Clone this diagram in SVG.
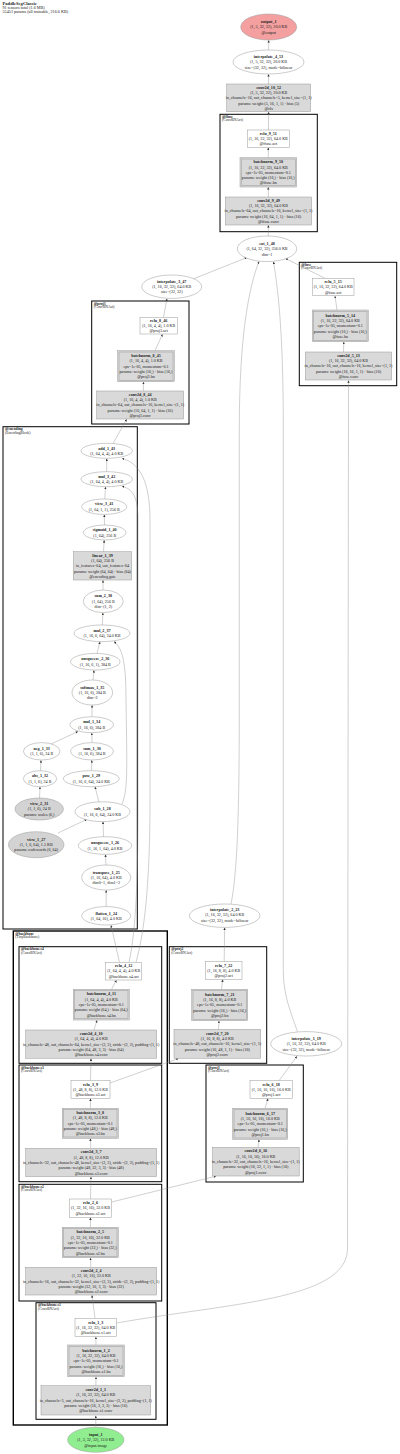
<svg xmlns="http://www.w3.org/2000/svg" width="400" height="1454" viewBox="0 0 400 1454">
<style>
text{font-family:"Liberation Serif","Times New Roman",serif;font-size:4.1px;fill:#222;text-anchor:middle}
.n{font-weight:bold}
.hd{text-anchor:start;font-size:4.2px}
.ht{text-anchor:start;font-size:4.6px;font-weight:bold}
.cl{text-anchor:start;font-size:3.7px}
.clb{text-anchor:start;font-size:3.7px;font-weight:bold}
.box{fill:#d9d9d9;stroke:#999;stroke-width:0.5}
.in{fill:none;stroke:#999;stroke-width:0.5}
.wbox{fill:#fff;stroke:#999;stroke-width:0.5}
.ell{fill:#fff;stroke:#999;stroke-width:0.5}
.pell{fill:#d3d3d3;stroke:#999;stroke-width:0.5}
.clu{fill:none;stroke:#000;stroke-width:1}
.clo{fill:none;stroke:#000;stroke-width:1.4}
.e{fill:none;stroke:#888;stroke-width:0.4;marker-end:url(#a)}
</style>
<defs>
<marker id="a" viewBox="0 0 10 10" refX="10" refY="5" markerWidth="2.4" markerHeight="2.4" markerUnits="userSpaceOnUse" orient="auto"><path d="M0,0L10,5L0,10z" fill="#333"/></marker>
</defs>
<rect width="400" height="1454" fill="#fff"/>
<g id="header">
<text class="ht" x="2.5" y="5">PaddleSegClassic</text>
<text class="hd" x="2.5" y="8.8">91 tensors total (1.6 MB)</text>
<text class="hd" x="2.5" y="12.6">55451 params (all trainable, 216.6 KB)</text>
</g>
<g id="clusters">
<g id="cl_ffuse"><rect class="clu" x="220" y="114.3" width="97.3" height="117.4"/><text class="clb" x="222" y="117.8">@ffuse</text><text class="cl" x="222" y="121.3">(ConvBNAct)</text></g>
<g id="cl_proj3"><rect class="clu" x="91.7" y="301" width="97.3" height="123"/><text class="clb" x="93.7" y="304.5">@proj3</text><text class="cl" x="93.7" y="308">(ConvBNAct)</text></g>
<g id="cl_fuse"><rect class="clu" x="299.3" y="262.3" width="97.4" height="123.4"/><text class="clb" x="301.3" y="265.8">@fuse</text><text class="cl" x="301.3" y="269.3">(ConvBNAct)</text></g>
<g id="cl_encoding"><rect class="clu" x="3" y="426.7" width="134.3" height="502.3"/><text class="clb" x="5" y="430.2">@encoding</text><text class="cl" x="5" y="433.7">(EncodingBlock)</text></g>
<g id="cl_proj2"><rect class="clu" x="169.3" y="946.7" width="97.4" height="116.6"/><text class="clb" x="171.3" y="950.2">@proj2</text><text class="cl" x="171.3" y="953.7">(ConvBNAct)</text></g>
<g id="cl_proj1"><rect class="clu" x="206" y="1065" width="97.3" height="117"/><text class="clb" x="208" y="1068.5">@proj1</text><text class="cl" x="208" y="1072">(ConvBNAct)</text></g>
<g id="cl_backbone"><rect class="clo" x="13.3" y="931" width="154" height="494"/><text class="clb" x="15.3" y="934.5">@backbone</text><text class="cl" x="15.3" y="938">(TinyBackbone)</text></g>
<g id="cl_s4"><rect class="clu" x="19" y="946.7" width="142.7" height="116.6"/><text class="clb" x="21" y="950.2">@backbone.s4</text><text class="cl" x="21" y="953.7">(ConvBNAct)</text></g>
<g id="cl_s3"><rect class="clu" x="19" y="1065" width="142.7" height="116.7"/><text class="clb" x="21" y="1068.5">@backbone.s3</text><text class="cl" x="21" y="1072">(ConvBNAct)</text></g>
<g id="cl_s2"><rect class="clu" x="19" y="1184.3" width="142.7" height="116.7"/><text class="clb" x="21" y="1187.8">@backbone.s2</text><text class="cl" x="21" y="1191.3">(ConvBNAct)</text></g>
<g id="cl_s1"><rect class="clu" x="36" y="1302.7" width="120" height="116.6"/><text class="clb" x="38" y="1306.2">@backbone.s1</text><text class="cl" x="38" y="1309.7">(ConvBNAct)</text></g>
</g>
<g id="edges">
<path class="e" d="M95.8,1427.3L95.8,1415.7"/>
<path class="e" d="M95.9,1385.7L96,1377"/>
<path class="e" d="M96,1345L95.9,1336.9"/>
<path class="e" d="M95,1318.3L92,1295.2"/>
<path class="e" d="M116.7,1323C230,1303 345,1300 347.5,1250L348.5,380.4"/>
<path class="e" d="M90.8,1267.3L90.5,1257.9"/>
<path class="e" d="M90.4,1227.3L90.5,1217.5"/>
<path class="e" d="M90.5,1199L91,1176.9"/>
<path class="e" d="M111.7,1202L216,1176.2"/>
<path class="e" d="M90.8,1148.3L90.4,1138.5"/>
<path class="e" d="M90.4,1108.3L90.5,1098.5"/>
<path class="e" d="M90.5,1080.7L91,1058.5"/>
<path class="e" d="M110,1083L178.5,1058.5"/>
<path class="e" d="M94,1030L97,1020.2"/>
<path class="e" d="M111.5,989.3L116.5,980.2"/>
<path class="e" d="M119.5,962.3L111,925.2"/>
<path class="e" d="M129,962.3C136,930 138,880 138,800L138,520C138,497 133,489 122,486.3"/>
<path class="e" d="M136,962.3C145,930 150,880 150,800L150,520C150,482 140,463 122,458.4"/>
<path class="e" d="M106.2,906.6L106.2,890.2"/>
<path class="e" d="M106,865L105.5,854.5"/>
<path class="e" d="M103.5,836.7L103,821.6"/>
<path class="e" d="M58,833L87,819.3"/>
<path class="e" d="M99,802L95,786.8"/>
<path class="e" d="M122,804C128,790 127,770 126,700C126,660 122,648 114,641.6"/>
<path class="e" d="M91.5,770.7L91.8,760.2"/>
<path class="e" d="M92,742.6L91.8,732.9"/>
<path class="e" d="M39.5,798L40,786.9"/>
<path class="e" d="M40.5,770.7L41,760.2"/>
<path class="e" d="M50,744.5L78,731.5"/>
<path class="e" d="M91.9,716.7L92.1,705.2"/>
<path class="e" d="M93,680L94,670.2"/>
<path class="e" d="M97,653.4L100,641.8"/>
<path class="e" d="M102.3,625L102.9,612.8"/>
<path class="e" d="M103,590L103,580.2"/>
<path class="e" d="M103.5,551.7L104.2,540.2"/>
<path class="e" d="M104.5,525L104.3,514.6"/>
<path class="e" d="M104.8,499L105.5,486.9"/>
<path class="e" d="M106.7,471.7L106.7,458.5"/>
<path class="e" d="M113,443.5L126.7,419.2"/>
<path class="e" d="M143.3,391L143.5,381.9"/>
<path class="e" d="M155,350.7L162.5,334.2"/>
<path class="e" d="M163.5,317.3L167,298.6"/>
<path class="e" d="M193,279L247,257.5"/>
<path class="e" d="M325,278.3L285.5,258.5"/>
<path class="e" d="M231,904C238,870 239.3,800 239.3,700L239.3,430C239.3,330 250,285 259,261.4"/>
<path class="e" d="M297.5,1031.7C290,1010 283.3,995 283.3,970L283.3,430C283.3,330 278,290 273.5,261.7"/>
<path class="e" d="M343.5,352L343.8,341.9"/>
<path class="e" d="M337,310L335,296"/>
<path class="e" d="M268.3,236L268.4,225.2"/>
<path class="e" d="M268.4,197L268.3,187.2"/>
<path class="e" d="M268.3,157.7L268.3,147.5"/>
<path class="e" d="M268.4,130L268.6,111.9"/>
<path class="e" d="M268.6,84L268.5,74.2"/>
<path class="e" d="M268.6,50L268.7,40.2"/>
<path class="e" d="M218.5,1029.3L219,1020.9"/>
<path class="e" d="M221.5,989.3L222.7,979.5"/>
<path class="e" d="M224.2,961.7L224.6,927.6"/>
<path class="e" d="M258,1147.3L259,1139.5"/>
<path class="e" d="M265,1108.3L268,1098.5"/>
<path class="e" d="M279,1080.7L297,1056.2"/>
</g>
<g id="output_1"><ellipse cx="268.7" cy="27" rx="28" ry="13" fill="#f4a0a0" stroke="#999" stroke-width="0.5"/><text class="n" x="268.7" y="23.1">output_1</text><text x="268.7" y="28.4">(1, 5, 32, 32), 20.0 KB</text><text x="268.7" y="33.7">@output</text></g>
<g id="interpolate_4_53"><ellipse class="ell" cx="268.5" cy="62" rx="35.5" ry="12"/><text class="n" x="268.5" y="58.1">interpolate_4_53</text><text x="268.5" y="63.4">(1, 5, 32, 32), 20.0 KB</text><text x="268.5" y="68.7">size=(32, 32), mode=bilinear</text></g>
<g id="conv2d_10_52"><rect class="box" x="226.7" y="84" width="84" height="27.7"/><text class="n" x="268.7" y="88.7">conv2d_10_52</text><text x="268.7" y="94">(1, 5, 32, 32), 20.0 KB</text><text x="268.7" y="99.3">in_channels=16, out_channels=5, kernel_size=(1, 1)</text><text x="268.7" y="104.6">params: weight (5, 16, 1, 1) · bias (5)</text><text x="268.7" y="109.9">@cls</text></g>
<g id="relu_9_51"><rect class="wbox" x="247.3" y="130" width="42" height="17.3"/><text class="n" x="268.3" y="134.8">relu_9_51</text><text x="268.3" y="140.1">(1, 16, 32, 32), 64.0 KB</text><text x="268.3" y="145.4">@ffuse.act</text></g>
<g id="batchnorm_9_50"><rect class="box" x="240" y="157.7" width="56.7" height="29.3"/><rect class="in" x="241.3" y="159" width="54.1" height="26.7"/><text class="n" x="268.3" y="163.2">batchnorm_9_50</text><text x="268.3" y="168.5">(1, 16, 32, 32), 64.0 KB</text><text x="268.3" y="173.8">eps=1e-05, momentum=0.1</text><text x="268.3" y="179.1">params: weight (16,) · bias (16,)</text><text x="268.3" y="184.4">@ffuse.bn</text></g>
<g id="conv2d_9_49"><rect class="box" x="225.3" y="197" width="86.4" height="28"/><text class="n" x="268.5" y="201.8">conv2d_9_49</text><text x="268.5" y="207.1">(1, 16, 32, 32), 64.0 KB</text><text x="268.5" y="212.4">in_channels=64, out_channels=16, kernel_size=(1, 1)</text><text x="268.5" y="217.7">params: weight (16, 64, 1, 1) · bias (16)</text><text x="268.5" y="223">@ffuse.conv</text></g>
<g id="cat_1_48"><ellipse class="ell" cx="267" cy="248.8" rx="29.7" ry="12.8"/><text class="n" x="267" y="244.9">cat_1_48</text><text x="267" y="250.2">(1, 64, 32, 32), 256.0 KB</text><text x="267" y="255.5">dim=1</text></g>
<g id="interpolate_3_47"><ellipse class="ell" cx="171.7" cy="286.7" rx="30" ry="11.7"/><text class="n" x="171.7" y="282.8">interpolate_3_47</text><text x="171.7" y="288.1">(1, 16, 32, 32), 64.0 KB</text><text x="171.7" y="293.4">size=(32, 32)</text></g>
<g id="relu_8_46"><rect class="wbox" x="140" y="317.3" width="37.3" height="16.7"/><text class="n" x="158.7" y="321.8">relu_8_46</text><text x="158.7" y="327.1">(1, 16, 4, 4), 1.0 KB</text><text x="158.7" y="332.4">@proj3.act</text></g>
<g id="batchnorm_8_45"><rect class="box" x="117.7" y="350.7" width="56.6" height="31"/><rect class="in" x="119" y="352" width="54" height="28.4"/><text class="n" x="146" y="357">batchnorm_8_45</text><text x="146" y="362.3">(1, 16, 4, 4), 1.0 KB</text><text x="146" y="367.6">eps=1e-05, momentum=0.1</text><text x="146" y="372.9">params: weight (16,) · bias (16,)</text><text x="146" y="378.2">@proj3.bn</text></g>
<g id="conv2d_8_44"><rect class="box" x="96.7" y="391" width="87" height="28"/><text class="n" x="140.2" y="395.8">conv2d_8_44</text><text x="140.2" y="401.1">(1, 16, 4, 4), 1.0 KB</text><text x="140.2" y="406.4">in_channels=64, out_channels=16, kernel_size=(1, 1)</text><text x="140.2" y="411.7">params: weight (16, 64, 1, 1) · bias (16)</text><text x="140.2" y="417">@proj3.conv</text></g>
<g id="relu_5_15"><rect class="wbox" x="312.3" y="278.3" width="41.7" height="17.4"/><text class="n" x="333.2" y="283.1">relu_5_15</text><text x="333.2" y="288.4">(1, 16, 32, 32), 64.0 KB</text><text x="333.2" y="293.7">@fuse.act</text></g>
<g id="batchnorm_5_14"><rect class="box" x="312.3" y="310" width="56" height="31.7"/><rect class="in" x="313.6" y="311.3" width="53.4" height="29.1"/><text class="n" x="340.3" y="316.7">batchnorm_5_14</text><text x="340.3" y="322">(1, 16, 32, 32), 64.0 KB</text><text x="340.3" y="327.3">eps=1e-05, momentum=0.1</text><text x="340.3" y="332.6">params: weight (16,) · bias (16,)</text><text x="340.3" y="337.9">@fuse.bn</text></g>
<g id="conv2d_5_13"><rect class="box" x="305.3" y="352" width="86.4" height="28"/><text class="n" x="348.5" y="356.8">conv2d_5_13</text><text x="348.5" y="362.1">(1, 16, 32, 32), 64.0 KB</text><text x="348.5" y="367.4">in_channels=16, out_channels=16, kernel_size=(1, 1)</text><text x="348.5" y="372.7">params: weight (16, 16, 1, 1) · bias (16)</text><text x="348.5" y="378">@fuse.conv</text></g>
<g id="add_1_43"><ellipse class="ell" cx="106.7" cy="450.8" rx="25.7" ry="7.5"/><text class="n" x="106.7" y="449.5">add_1_43</text><text x="106.7" y="454.8">(1, 64, 4, 4), 4.0 KB</text></g>
<g id="mul_3_42"><ellipse class="ell" cx="106.7" cy="479.2" rx="25.7" ry="7.5"/><text class="n" x="106.7" y="477.9">mul_3_42</text><text x="106.7" y="483.2">(1, 64, 4, 4), 4.0 KB</text></g>
<g id="view_3_41"><ellipse class="ell" cx="104.2" cy="506.7" rx="22.5" ry="7.7"/><text class="n" x="104.2" y="505.4">view_3_41</text><text x="104.2" y="510.7">(1, 64, 1, 1), 256 B</text></g>
<g id="sigmoid_1_40"><ellipse class="ell" cx="104.7" cy="532.5" rx="21.3" ry="7.5"/><text class="n" x="104.7" y="531.2">sigmoid_1_40</text><text x="104.7" y="536.5">(1, 64), 256 B</text></g>
<g id="linear_1_39"><rect class="box" x="73.3" y="551.7" width="58.4" height="28.3"/><text class="n" x="102.5" y="556.6">linear_1_39</text><text x="102.5" y="561.9">(1, 64), 256 B</text><text x="102.5" y="567.2">in_features=64, out_features=64</text><text x="102.5" y="572.5">params: weight (64, 64) · bias (64)</text><text x="102.5" y="577.8">@encoding.gate</text></g>
<g id="sum_2_38"><ellipse class="ell" cx="103.3" cy="601.3" rx="20" ry="11.3"/><text class="n" x="103.3" y="597.4">sum_2_38</text><text x="103.3" y="602.7">(1, 64), 256 B</text><text x="103.3" y="608">dim=(1, 2)</text></g>
<g id="mul_2_37"><ellipse class="ell" cx="102" cy="633.3" rx="28" ry="8.3"/><text class="n" x="102" y="632">mul_2_37</text><text x="102" y="637.3">(1, 16, 6, 64), 24.0 KB</text></g>
<g id="unsqueeze_2_36"><ellipse class="ell" cx="95.3" cy="661.7" rx="24.7" ry="8.3"/><text class="n" x="95.3" y="660.4">unsqueeze_2_36</text><text x="95.3" y="665.7">(1, 16, 6, 1), 384 B</text></g>
<g id="softmax_1_35"><ellipse class="ell" cx="92.3" cy="692.5" rx="20.3" ry="12.5"/><text class="n" x="92.3" y="688.6">softmax_1_35</text><text x="92.3" y="693.9">(1, 16, 6), 384 B</text><text x="92.3" y="699.2">dim=2</text></g>
<g id="mul_1_34"><ellipse class="ell" cx="91.7" cy="724.7" rx="21.7" ry="8"/><text class="n" x="91.7" y="723.4">mul_1_34</text><text x="91.7" y="728.7">(1, 16, 6), 384 B</text></g>
<g id="neg_1_33"><ellipse class="ell" cx="41.7" cy="751.3" rx="18.3" ry="8.7"/><text class="n" x="41.7" y="750">neg_1_33</text><text x="41.7" y="755.3">(1, 1, 6), 24 B</text></g>
<g id="sum_1_30"><ellipse class="ell" cx="92" cy="751.3" rx="21.3" ry="8.7"/><text class="n" x="92" y="750">sum_1_30</text><text x="92" y="755.3">(1, 16, 6), 384 B</text></g>
<g id="abs_1_32"><ellipse class="ell" cx="40" cy="778.7" rx="16.7" ry="8"/><text class="n" x="40" y="777.4">abs_1_32</text><text x="40" y="782.7">(1, 1, 6), 24 B</text></g>
<g id="pow_1_29"><ellipse class="ell" cx="91.3" cy="778.7" rx="28" ry="8"/><text class="n" x="91.3" y="777.4">pow_1_29</text><text x="91.3" y="782.7">(1, 16, 6, 64), 24.0 KB</text></g>
<g id="view_2_31"><ellipse class="pell" cx="39.2" cy="809" rx="24.2" ry="11"/><text class="n" x="39.2" y="805.1">view_2_31</text><text x="39.2" y="810.4">(1, 1, 6), 24 B</text><text x="39.2" y="815.7">params: scales (6,)</text></g>
<g id="sub_1_28"><ellipse class="ell" cx="102.5" cy="811.7" rx="27.5" ry="9.9"/><text class="n" x="102.5" y="810.4">sub_1_28</text><text x="102.5" y="815.7">(1, 16, 6, 64), 24.0 KB</text></g>
<g id="view_1_27"><ellipse class="pell" cx="36.2" cy="844.7" rx="27.8" ry="13"/><text class="n" x="36.2" y="840.8">view_1_27</text><text x="36.2" y="846.1">(1, 1, 6, 64), 1.5 KB</text><text x="36.2" y="851.4">params: codewords (6, 64)</text></g>
<g id="unsqueeze_1_26"><ellipse class="ell" cx="105" cy="845.5" rx="26.7" ry="8.8"/><text class="n" x="105" y="844.2">unsqueeze_1_26</text><text x="105" y="849.5">(1, 16, 1, 64), 4.0 KB</text></g>
<g id="transpose_1_25"><ellipse class="ell" cx="106.2" cy="877.5" rx="24.5" ry="12.5"/><text class="n" x="106.2" y="873.6">transpose_1_25</text><text x="106.2" y="878.9">(1, 16, 64), 4.0 KB</text><text x="106.2" y="884.2">dim0=1, dim1=2</text></g>
<g id="flatten_1_24"><ellipse class="ell" cx="106.2" cy="915.8" rx="24.5" ry="9.2"/><text class="n" x="106.2" y="914.5">flatten_1_24</text><text x="106.2" y="919.8">(1, 64, 16), 4.0 KB</text></g>
<g id="interpolate_2_23"><ellipse class="ell" cx="224.7" cy="915.7" rx="35.3" ry="11.7"/><text class="n" x="224.7" y="911.1">interpolate_2_23</text><text x="224.7" y="916.4">(1, 16, 32, 32), 64.0 KB</text><text x="224.7" y="921.7">size=(32, 32), mode=bilinear</text></g>
<g id="relu_7_22"><rect class="wbox" x="205.3" y="961.7" width="36.7" height="17.6"/><text class="n" x="223.7" y="966.5">relu_7_22</text><text x="223.7" y="971.8">(1, 16, 8, 8), 4.0 KB</text><text x="223.7" y="977.1">@proj2.act</text></g>
<g id="batchnorm_7_21"><rect class="box" x="191.7" y="989.3" width="56" height="31.4"/><rect class="in" x="193" y="990.6" width="53.4" height="28.8"/><text class="n" x="219.7" y="995.8">batchnorm_7_21</text><text x="219.7" y="1001.1">(1, 16, 8, 8), 4.0 KB</text><text x="219.7" y="1006.4">eps=1e-05, momentum=0.1</text><text x="219.7" y="1011.7">params: weight (16,) · bias (16,)</text><text x="219.7" y="1017">@proj2.bn</text></g>
<g id="conv2d_7_20"><rect class="box" x="174" y="1029.3" width="86.7" height="29"/><text class="n" x="217.3" y="1034.6">conv2d_7_20</text><text x="217.3" y="1039.9">(1, 16, 8, 8), 4.0 KB</text><text x="217.3" y="1045.2">in_channels=48, out_channels=16, kernel_size=(1, 1)</text><text x="217.3" y="1050.5">params: weight (16, 48, 1, 1) · bias (16)</text><text x="217.3" y="1055.8">@proj2.conv</text></g>
<g id="interpolate_1_19"><ellipse class="ell" cx="306.2" cy="1043.8" rx="35.5" ry="12.2"/><text class="n" x="306.2" y="1039.9">interpolate_1_19</text><text x="306.2" y="1045.2">(1, 16, 32, 32), 64.0 KB</text><text x="306.2" y="1050.5">size=(32, 32), mode=bilinear</text></g>
<g id="relu_6_18"><rect class="wbox" x="250" y="1080.7" width="42.3" height="17.6"/><text class="n" x="271.2" y="1085.5">relu_6_18</text><text x="271.2" y="1090.8">(1, 16, 16, 16), 16.0 KB</text><text x="271.2" y="1096.1">@proj1.act</text></g>
<g id="batchnorm_6_17"><rect class="box" x="232.7" y="1108.3" width="55" height="31"/><rect class="in" x="234" y="1109.6" width="52.4" height="28.4"/><text class="n" x="260.2" y="1114.6">batchnorm_6_17</text><text x="260.2" y="1119.9">(1, 16, 16, 16), 16.0 KB</text><text x="260.2" y="1125.2">eps=1e-05, momentum=0.1</text><text x="260.2" y="1130.5">params: weight (16,) · bias (16,)</text><text x="260.2" y="1135.8">@proj1.bn</text></g>
<g id="conv2d_6_16"><rect class="box" x="212.5" y="1147.3" width="86.7" height="28.7"/><text class="n" x="255.8" y="1152.4">conv2d_6_16</text><text x="255.8" y="1157.7">(1, 16, 16, 16), 16.0 KB</text><text x="255.8" y="1163">in_channels=32, out_channels=16, kernel_size=(1, 1)</text><text x="255.8" y="1168.3">params: weight (16, 32, 1, 1) · bias (16)</text><text x="255.8" y="1173.6">@proj1.conv</text></g>
<g id="relu_4_12"><rect class="wbox" x="105.7" y="962.3" width="36" height="17.7"/><text class="n" x="123.7" y="967.1">relu_4_12</text><text x="123.7" y="972.4">(1, 64, 4, 4), 4.0 KB</text><text x="123.7" y="977.7">@backbone.s4.act</text></g>
<g id="batchnorm_4_11"><rect class="box" x="73.3" y="989.3" width="56" height="30.7"/><rect class="in" x="74.6" y="990.6" width="53.4" height="28.1"/><text class="n" x="101.3" y="995.4">batchnorm_4_11</text><text x="101.3" y="1000.7">(1, 64, 4, 4), 4.0 KB</text><text x="101.3" y="1006">eps=1e-05, momentum=0.1</text><text x="101.3" y="1011.3">params: weight (64,) · bias (64,)</text><text x="101.3" y="1016.6">@backbone.s4.bn</text></g>
<g id="conv2d_4_10"><rect class="box" x="25.7" y="1030" width="131" height="28.3"/><text class="n" x="91.2" y="1034.9">conv2d_4_10</text><text x="91.2" y="1040.2">(1, 64, 4, 4), 4.0 KB</text><text x="91.2" y="1045.5">in_channels=48, out_channels=64, kernel_size=(3, 3), stride=(2, 2), padding=(1, 1)</text><text x="91.2" y="1050.8">params: weight (64, 48, 3, 3) · bias (64)</text><text x="91.2" y="1056.1">@backbone.s4.conv</text></g>
<g id="relu_3_9"><rect class="wbox" x="71" y="1080.7" width="39" height="17.6"/><text class="n" x="90.5" y="1085.5">relu_3_9</text><text x="90.5" y="1090.8">(1, 48, 8, 8), 12.0 KB</text><text x="90.5" y="1096.1">@backbone.s3.act</text></g>
<g id="batchnorm_3_8"><rect class="box" x="62.3" y="1108.3" width="56" height="30"/><rect class="in" x="63.6" y="1109.6" width="53.4" height="27.4"/><text class="n" x="90.3" y="1114.1">batchnorm_3_8</text><text x="90.3" y="1119.4">(1, 48, 8, 8), 12.0 KB</text><text x="90.3" y="1124.7">eps=1e-05, momentum=0.1</text><text x="90.3" y="1130">params: weight (48,) · bias (48,)</text><text x="90.3" y="1135.3">@backbone.s3.bn</text></g>
<g id="conv2d_3_7"><rect class="box" x="25.7" y="1148.3" width="131" height="28.4"/><text class="n" x="91.2" y="1153.3">conv2d_3_7</text><text x="91.2" y="1158.6">(1, 48, 8, 8), 12.0 KB</text><text x="91.2" y="1163.9">in_channels=32, out_channels=48, kernel_size=(3, 3), stride=(2, 2), padding=(1, 1)</text><text x="91.2" y="1169.2">params: weight (48, 32, 3, 3) · bias (48)</text><text x="91.2" y="1174.5">@backbone.s3.conv</text></g>
<g id="relu_2_6"><rect class="wbox" x="69.3" y="1199" width="42.4" height="18.3"/><text class="n" x="90.5" y="1204.1">relu_2_6</text><text x="90.5" y="1209.4">(1, 32, 16, 16), 32.0 KB</text><text x="90.5" y="1214.7">@backbone.s2.act</text></g>
<g id="batchnorm_2_5"><rect class="box" x="62.3" y="1227.3" width="56" height="30.4"/><rect class="in" x="63.6" y="1228.6" width="53.4" height="27.8"/><text class="n" x="90.3" y="1233.3">batchnorm_2_5</text><text x="90.3" y="1238.6">(1, 32, 16, 16), 32.0 KB</text><text x="90.3" y="1243.9">eps=1e-05, momentum=0.1</text><text x="90.3" y="1249.2">params: weight (32,) · bias (32,)</text><text x="90.3" y="1254.5">@backbone.s2.bn</text></g>
<g id="conv2d_2_4"><rect class="box" x="25.7" y="1267.3" width="131" height="27.7"/><text class="n" x="91.2" y="1271.9">conv2d_2_4</text><text x="91.2" y="1277.2">(1, 32, 16, 16), 32.0 KB</text><text x="91.2" y="1282.5">in_channels=16, out_channels=32, kernel_size=(3, 3), stride=(2, 2), padding=(1, 1)</text><text x="91.2" y="1287.8">params: weight (32, 16, 3, 3) · bias (32)</text><text x="91.2" y="1293.1">@backbone.s2.conv</text></g>
<g id="relu_1_3"><rect class="wbox" x="75" y="1318.3" width="41.7" height="18.4"/><text class="n" x="95.8" y="1323.5">relu_1_3</text><text x="95.8" y="1328.8">(1, 16, 32, 32), 64.0 KB</text><text x="95.8" y="1334.1">@backbone.s1.act</text></g>
<g id="batchnorm_1_2"><rect class="box" x="67.7" y="1345" width="56.6" height="31.7"/><rect class="in" x="69" y="1346.3" width="54" height="29.1"/><text class="n" x="96" y="1351.6">batchnorm_1_2</text><text x="96" y="1356.9">(1, 16, 32, 32), 64.0 KB</text><text x="96" y="1362.2">eps=1e-05, momentum=0.1</text><text x="96" y="1367.5">params: weight (16,) · bias (16,)</text><text x="96" y="1372.8">@backbone.s1.bn</text></g>
<g id="conv2d_1_1"><rect class="box" x="41" y="1385.7" width="109.7" height="29.3"/><text class="n" x="95.8" y="1391.1">conv2d_1_1</text><text x="95.8" y="1396.4">(1, 16, 32, 32), 64.0 KB</text><text x="95.8" y="1401.7">in_channels=3, out_channels=16, kernel_size=(3, 3), padding=(1, 1)</text><text x="95.8" y="1407">params: weight (16, 3, 3, 3) · bias (16)</text><text x="95.8" y="1412.3">@backbone.s1.conv</text></g>
<g id="input_1"><ellipse cx="95.8" cy="1439.8" rx="28.2" ry="12.5" fill="#90ee90" stroke="#999" stroke-width="0.5"/><text class="n" x="95.8" y="1435.9">input_1</text><text x="95.8" y="1441.2">(1, 3, 32, 32), 12.0 KB</text><text x="95.8" y="1446.5">@input.image</text></g>
</svg>
